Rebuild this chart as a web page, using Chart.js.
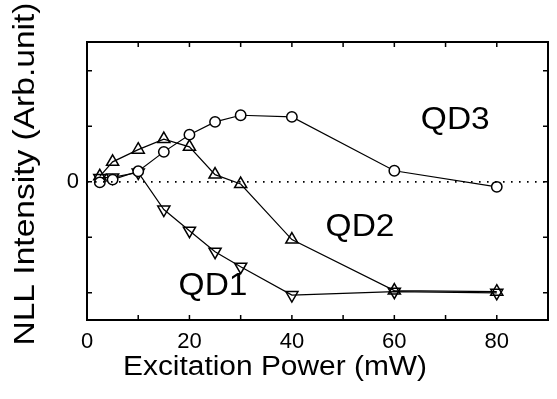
<!DOCTYPE html>
<html>
<head>
<meta charset="utf-8">
<script src="https://cdn.jsdelivr.net/npm/chart.js@4.4.1/dist/chart.umd.min.js"></script>
<style>
  html, body { margin: 0; padding: 0; background: #fff; }
  #wrap { width: 557px; height: 399px; }
</style>
</head>
<body>
<div id="wrap"><canvas id="c" width="557" height="399"></canvas></div>
<script>
// ---- data ----
const power = [2.5, 5, 10, 15, 20, 25, 30, 40, 60, 80];          // Excitation power (mW)
const qd3   = [-0.01, 0.04, 0.19, 0.54, 0.85, 1.08, 1.20, 1.17, 0.20, -0.09];
const qd2   = [0.10, 0.36, 0.58, 0.77, 0.63, 0.13, -0.04, -1.04, -1.96, -1.98];
const qd1   = [0.07, 0.08, 0.17, -0.50, -0.88, -1.26, -1.53, -2.04, -1.98, -2.00];
const xTickValues = [0, 20, 40, 60, 80];
const yTickLabels = { 0: '0' };
const seriesNames = ['QD3', 'QD2', 'QD1'];
const xTitle = 'Excitation Power (mW)';
const yTitle = 'NLL Intensity (Arb.unit)';

// in-plot series labels, anchored in data coordinates
const seriesLabelAt = [
  { text: 'QD3', x: 71.9, y: 1.10 },
  { text: 'QD2', x: 53.3, y: -0.83 },
  { text: 'QD1', x: 24.6, y: -1.89 }
];

const FONT = '"Liberation Sans", Arial, Helvetica, sans-serif';
const TEXT_STRETCH = 1.08;   // reference typeface runs a little wider than Liberation Sans

function pts(ys) { return power.map((p, i) => ({ x: p, y: ys[i] })); }

function stretchedText(ctx, text, cx, cy, size, rotation, targetLen) {
  ctx.save();
  ctx.font = size + 'px ' + FONT;
  ctx.textAlign = 'center';
  ctx.textBaseline = 'middle';
  const w = ctx.measureText(text).width;
  const s = targetLen ? targetLen / w : TEXT_STRETCH;
  ctx.translate(cx, cy);
  ctx.rotate(rotation);
  ctx.scale(s, 1);
  ctx.fillText(text, 0, 0);
  ctx.restore();
}

const framePlugin = {
  id: 'frame',
  afterDatasetsDraw(chart) {
    const { ctx, chartArea: a, scales: { x, y } } = chart;
    ctx.save();
    // dotted zero line
    const y0 = y.getPixelForValue(0);
    ctx.strokeStyle = '#000';
    ctx.lineWidth = 1.6;
    ctx.setLineDash([1.6, 6.4]);
    ctx.beginPath();
    ctx.moveTo(a.left, y0);
    ctx.lineTo(a.right, y0);
    ctx.stroke();
    ctx.setLineDash([]);
    // inward ticks on all four sides
    ctx.lineWidth = 1.5;
    const tl = 5;
    for (let v = 10; v < 90; v += 10) {
      const px = x.getPixelForValue(v);
      ctx.beginPath();
      ctx.moveTo(px, a.bottom); ctx.lineTo(px, a.bottom - tl);
      ctx.moveTo(px, a.top); ctx.lineTo(px, a.top + tl);
      ctx.stroke();
    }
    for (let v = -2; v <= 2; v += 1) {
      const py = y.getPixelForValue(v);
      ctx.beginPath();
      ctx.moveTo(a.left, py); ctx.lineTo(a.left + tl, py);
      ctx.moveTo(a.right, py); ctx.lineTo(a.right - tl, py);
      ctx.stroke();
    }
    // frame
    ctx.lineWidth = 2;
    ctx.strokeRect(a.left, a.top, a.right - a.left, a.bottom - a.top);
    ctx.fillStyle = '#000';
    // series labels
    seriesLabelAt.forEach(l => {
      stretchedText(ctx, l.text, x.getPixelForValue(l.x), y.getPixelForValue(l.y), 31, 0, null);
    });
    // axis titles
    stretchedText(ctx, xTitle, 275, 367.5, 27, 0, 304);
    stretchedText(ctx, yTitle, 26, 174, 30, -Math.PI / 2, 343);
    ctx.restore();
  }
};

const common = {
  borderColor: '#000',
  borderWidth: 1.2,
  pointBorderColor: '#000',
  pointBorderWidth: 1.5,
  pointBackgroundColor: 'rgba(255,255,255,0)',
  fill: false,
  tension: 0
};

new Chart(document.getElementById('c'), {
  type: 'line',
  data: {
    datasets: [
      Object.assign({}, common, { label: seriesNames[0], data: pts(qd3), pointStyle: 'circle', pointRadius: 5.2, pointBackgroundColor: '#fff' }),
      Object.assign({}, common, { label: seriesNames[1], data: pts(qd2), pointStyle: 'triangle', pointRadius: 7 }),
      Object.assign({}, common, { label: seriesNames[2], data: pts(qd1), pointStyle: 'triangle', pointRotation: 180, pointRadius: 7 })
    ]
  },
  options: {
    responsive: false,
    animation: false,
    devicePixelRatio: 1,
    layout: { padding: { top: 42, right: 9, left: 0, bottom: 48.6 } },
    plugins: {
      legend: { display: false },
      tooltip: { enabled: false }
    },
    scales: {
      x: {
        type: 'linear',
        min: 0, max: 90,
        afterBuildTicks(scale) { scale.ticks = xTickValues.map(v => ({ value: v })); },
        afterFit(scale) { scale.height = 30.4; },
        grid: { display: false, drawTicks: false },
        border: { display: false },
        ticks: {
          color: '#000',
          padding: 9,
          maxRotation: 0,
          font: { family: FONT, size: 22 },
          callback: v => String(v)
        }
      },
      y: {
        type: 'linear',
        min: -2.49, max: 2.52,
        afterBuildTicks(scale) { scale.ticks = [{ value: 0 }]; },
        afterFit(scale) { scale.width = 87; },
        grid: { display: false, drawTicks: false },
        border: { display: false },
        ticks: {
          color: '#000',
          padding: 8,
          font: { family: FONT, size: 22 },
          callback: v => (yTickLabels[v] !== undefined ? yTickLabels[v] : '')
        }
      }
    }
  },
  plugins: [framePlugin]
});
</script>
</body>
</html>
